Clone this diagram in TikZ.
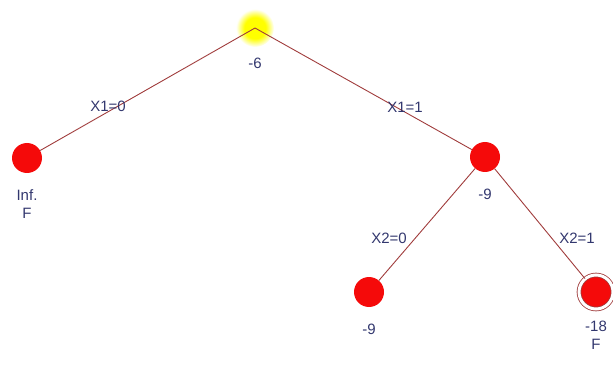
\documentclass[tikz,border=0pt]{standalone}
\usepackage{fontspec}
\setmainfont{Liberation Sans}
\usepackage{tikz}
\usetikzlibrary{positioning}
\definecolor{edgered}{RGB}{160,60,60}
\definecolor{labelblue}{RGB}{50,55,110}
\definecolor{nodered}{RGB}{245,10,10}
\pgfdeclareradialshading{rootglow}{\pgfpoint{0bp}{0bp}}{%
  color(0bp)=(yellow); color(14bp)=(yellow); color(25bp)=(white); color(50bp)=(white)}

\begin{document}
\begin{tikzpicture}[
  x=1pt, y=-1pt,
  branch/.style={draw=edgered, line width=0.9pt},
  bnode/.style={circle, fill=nodered, minimum size=30pt, inner sep=0pt},
  rootnode/.style={circle, shading=rootglow, minimum size=38pt, inner sep=0pt},
  ringnode/.style={bnode, minimum size=34pt, double=white, draw=edgered, double distance=3pt, line width=0.8pt},
  val/.style={font=\fontsize{15}{17}\selectfont, text=labelblue, inner sep=1pt},
  edgelabel/.style={val},
  node distance=4pt
]
\useasboundingbox (0,0) rectangle (613,366);
% tree nodes
\node[rootnode] (root) at (255,28) {};
\node[bnode] (n0) at (27,158) {};
\node[bnode] (n1) at (485,157) {};
\node[bnode] (n10) at (369,292) {};
\node[ringnode] (n11) at (596,292) {};
% branches
\draw[branch] (root.center) -- (n0);
\draw[branch] (root.center) -- (n1);
\draw[branch] (n1) -- (n10);
\draw[branch] (n1) -- (n11);
% values
\node[val] (v0) at (255,63) {-6};
\node[val, below=15pt of n0] (inf) {Inf.};
\node[val, below=6pt of inf] (f0) {F};
\node[val, below=16pt of n1] (v1) {-9};
\node[val, below=16pt of n10] (v10) {-9};
\node[val, below=10pt of n11] (v11) {-18};
\node[val, below=6pt of v11] (f11) {F};
% branch labels
\node[edgelabel] (e0) at (108,106) {X1=0};
\node[edgelabel] (e1) at (405,107) {X1=1};
\node[edgelabel] (e10) at (389,238) {X2=0};
\node[edgelabel] (e11) at (577,238) {X2=1};
\end{tikzpicture}
\end{document}
